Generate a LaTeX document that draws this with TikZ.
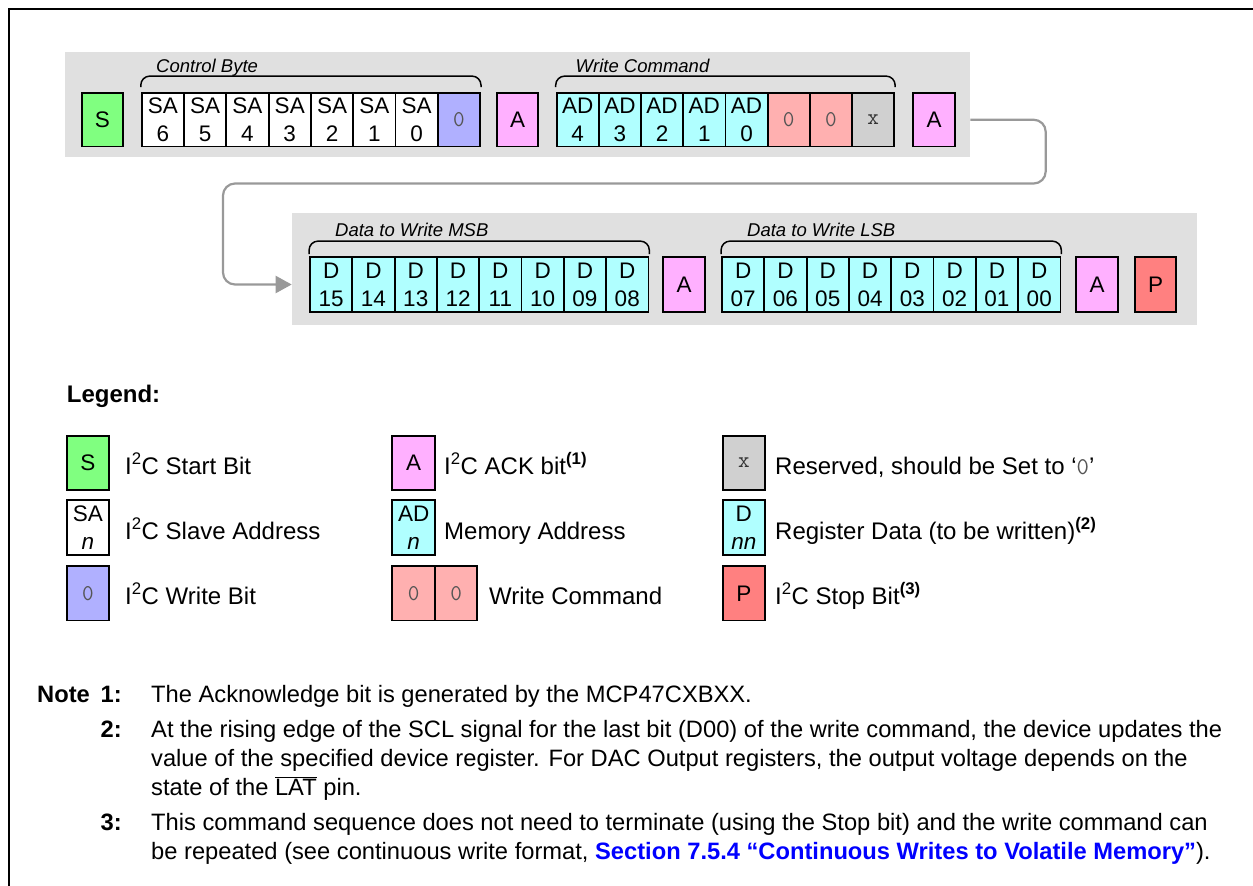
\documentclass[tikz,border=0pt]{standalone}
\usepackage{fontspec}
\setmainfont{Liberation Sans}
\usetikzlibrary{arrows.meta,calc}
\definecolor{cS}{HTML}{80FF80}
\definecolor{cW}{HTML}{B0B0FF}
\definecolor{cA}{HTML}{FFB0FF}
\definecolor{cD}{HTML}{B0FFFF}
\definecolor{cC}{HTML}{FFB0B0}
\definecolor{cX}{HTML}{D0D0D0}
\definecolor{cP}{HTML}{FF8080}
\definecolor{cBG}{HTML}{E0E0E0}
\definecolor{cLine}{HTML}{999999}
\definecolor{cZero}{HTML}{555555}
\definecolor{linkblue}{HTML}{0000FF}
\newcommand\zr{{\ttfamily\color{cZero}0}}
\newcommand\xr{{\ttfamily\color{black!80}x}}
\begin{document}
\begin{tikzpicture}[x=1pt,y=-1pt,
  bit/.style={draw=black, line width=1.8pt, inner sep=0pt, minimum width=42.3pt,
    minimum height=53.5pt, align=center, font=\fontsize{22.5}{28}\selectfont},
  bitb/.style={bit, minimum height=55pt},
  lgd/.style={bit, minimum height=54.3pt},
  bgbox/.style={fill=cBG, draw=none, inner sep=0pt, anchor=north west},
  brc/.style={draw=black, line width=1.5pt, rounded corners=9pt},
  lbl/.style={anchor=base west, inner sep=0pt, font=\fontsize{18.5}{22}\selectfont\itshape},
  ltxt/.style={anchor=base west, inner sep=0pt, font=\fontsize{24}{29}\selectfont},
  note/.style={anchor=base west, inner sep=0pt, font=\fontsize{23.7}{29}\selectfont},
  num/.style={anchor=base east, inner sep=0pt, font=\fontsize{23.7}{29}\selectfont\bfseries},
  conn/.style={draw=cLine, line width=2.2pt, rounded corners=12pt,
    -{Triangle[length=16pt,width=17pt]}}
]
\useasboundingbox (0,0) rectangle (1253,886);
% frame (top and left edges visible)
\draw[line width=1.8pt] (9,886) -- (9,9) -- (1253,9);

% ---------- row 1 ----------
\node[bgbox, minimum width=905pt, minimum height=105pt] (bg1) at (65,52) {};
\node[bit, fill=cS, minimum width=41pt] (S) at (102.5,119.75) {S};
\foreach \i/\n in {0/6,1/5,2/4,3/3,4/2,5/1,6/0}
  \node[bit, fill=white] (sa\n) at ({141.7+42.3*\i+21.15},119.75) {SA\\\n};
\node[bit, fill=cW] (wb) at ({141.7+42.3*7+21.15},119.75) {\zr};
\node[bit, fill=cA, minimum width=41pt] (A1) at (517.5,119.75) {A};
\foreach \i/\n in {0/4,1/3,2/2,3/1,4/0}
  \node[bit, fill=cD, minimum width=42.2pt] (ad\n) at ({556.6+42.2*\i+21.1},119.75) {AD\\\n};
\node[bit, fill=cC, minimum width=42.2pt] (c1) at ({556.6+42.2*5+21.1},119.75) {\zr};
\node[bit, fill=cC, minimum width=42.2pt] (c2) at ({556.6+42.2*6+21.1},119.75) {\zr};
\node[bit, fill=cX, minimum width=42.2pt] (rx) at ({556.6+42.2*7+21.1},119.75) {\xr};
\node[bit, fill=cA, minimum width=42pt] (A2) at (934,119.75) {A};
% braces
\draw[brc] ($(sa6.north west)+(0,-5)$) -- ++(0,-11) -| ($(wb.north east)+(0,-5)$);
\draw[brc] ($(ad4.north west)+(0,-5)$) -- ++(0,-11) -| ($(rx.north east)+(0,-5)$);
\node[lbl] (lb1) at (156,72.5) {Control Byte};
\node[lbl] (lb2) at (575.5,72.5) {Write Command};

% ---------- row 2 ----------
\node[bgbox, minimum width=905.3pt, minimum height=112.3pt] (bg2) at (291.7,212.7) {};
\foreach \i/\n in {0/15,1/14,2/13,3/12,4/11,5/10,6/09,7/08}
  \node[bitb, fill=cD] (d\n) at ({310+42.3*\i+21.15},284.5) {D\\\n};
\node[bitb, fill=cA, minimum width=42pt] (A3) at (684,284.5) {A};
\foreach \i/\n in {0/07,1/06,2/05,3/04,4/03,5/02,6/01,7/00}
  \node[bitb, fill=cD] (d\n) at ({722+42.3*\i+21.15},284.5) {D\\\n};
\node[bitb, fill=cA, minimum width=42pt] (A4) at (1097,284.5) {A};
\node[bitb, fill=cP, minimum width=41pt] (P) at (1155.5,284.5) {P};
\draw[brc] ($(d15.north west)+(0,-2)$) -- ++(0,-13) -| ($(d08.north east)+(0,-2)$);
\draw[brc] ($(d07.north west)+(0,-2)$) -- ++(0,-13) -| ($(d00.north east)+(0,-2)$);
\node[lbl] (lb3) at (335,236) {Data to Write MSB};
\node[lbl] (lb4) at (747,236) {Data to Write LSB};

% connector
\draw[conn] (bg1.east |- A2.center) -- (1045.7,119.75) -- (1045.7,183.5)
  -- (223,183.5) -- (223,284.5) -- (bg2.west |- d15.center);

% ---------- legend ----------
\node[anchor=base west, inner sep=0pt, font=\fontsize{24}{29}\selectfont\bfseries] (leg) at (66.7,402.3) {Legend:};
\node[lgd, fill=cS] (lS) at (87.85,462.85) {S};
\node[lgd, fill=white] (lSA) at (87.85,527.5) {SA\\\textit{n}};
\node[lgd, fill=cW] (lW) at (87.85,593.4) {\zr};
\node[ltxt] (tS) at (125,474) {I\textsuperscript{2}C Start Bit};
\node[ltxt] (tSA) at (125,539) {I\textsuperscript{2}C Slave Address};
\node[ltxt] (tW) at (125,604) {I\textsuperscript{2}C Write Bit};

\node[lgd, fill=cA, minimum width=42.7pt] (lA) at (413.65,462.85) {A};
\node[lgd, fill=cD, minimum width=42.7pt] (lAD) at (413.65,527.5) {AD\\\textit{n}};
\node[lgd, fill=cC, minimum width=42.7pt] (lC1) at (413.65,593.4) {\zr};
\node[lgd, fill=cC, minimum width=42.3pt] (lC2) at (456.15,593.4) {\zr};
\node[ltxt] (tA) at (444,474) {I\textsuperscript{2}C ACK bit\textsuperscript{\bfseries(1)}};
\node[ltxt] (tAD) at (444,539) {Memory Address};
\node[ltxt] (tC) at (489,604) {Write Command};

\node[lgd, fill=cX] (lX) at (743.85,462.85) {\xr};
\node[lgd, fill=cD] (lD) at (743.85,527.5) {D\\\textit{nn}};
\node[lgd, fill=cP] (lP) at (743.85,593.4) {P};
\node[ltxt] (tX) at (775,474) {Reserved, should be Set to ‘\zr’};
\node[ltxt] (tD) at (775,539) {Register Data (to be written)\textsuperscript{\bfseries(2)}};
\node[ltxt] (tP) at (775,604) {I\textsuperscript{2}C Stop Bit\textsuperscript{\bfseries(3)}};

% ---------- notes ----------
\node[note, font=\fontsize{23.7}{29}\selectfont\bfseries] (nN) at (37,702) {Note};
\node[num] (n1) at (122,702) {1:};
\node[note] (t1) at (151,702) {The Acknowledge bit is generated by the MCP47CXBXX.};
\node[num] (n2) at (122,737) {2:};
\node[note] (t2a) at (151,737) {At the rising edge of the SCL signal for the last bit (D00) of the write command, the device updates the};
\node[note] (t2b) at (151,766) {value of the specified device register. For DAC Output registers, the output voltage depends on the};
\node[note] (t2c) at (151,795) {state of the \(\overline{\hbox{LAT}}\) pin.};
\node[num] (n3) at (122,830) {3:};
\node[note] (t3a) at (151,830) {This command sequence does not need to terminate (using the Stop bit) and the write command can};
\node[note] (t3b) at (151,859) {be repeated (see continuous write format, {\bfseries\color{linkblue}Section 7.5.4 “Continuous Writes to Volatile Memory”}).};
\end{tikzpicture}
\end{document}
